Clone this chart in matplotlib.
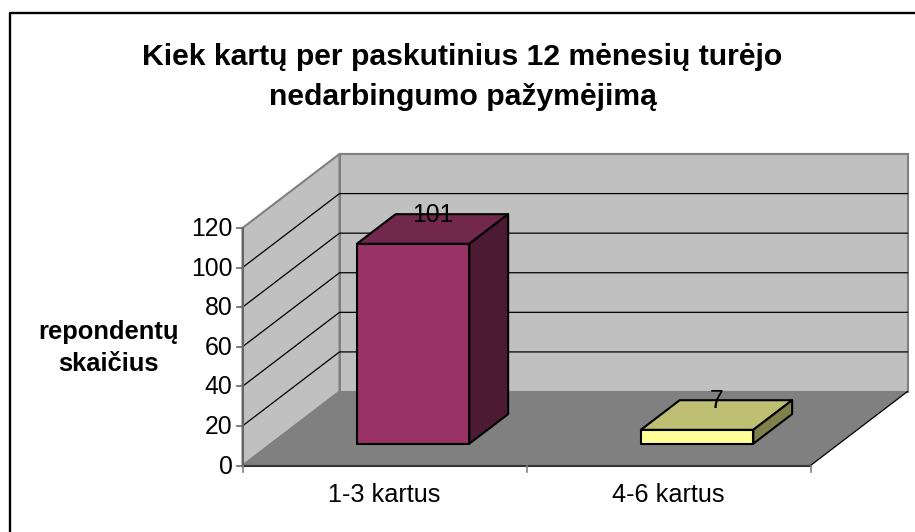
import matplotlib
matplotlib.use('Agg')
import matplotlib.pyplot as plt
from matplotlib.patches import Polygon

title = 'Kiek kartų per paskutinius 12 mėnesių turėjo\nnedarbingumo pažymėjimą'
ylabel = 'repondentų\nskaičius'
categories = ['1-3 kartus', '4-6 kartus']
values = [101, 7]
yticks = [0, 20, 40, 60, 80, 100, 120]
front_colors = ['#993366', '#FFFF99']
top_colors = ['#72274D', '#BFBF73']
side_colors = ['#4D1A33', '#80804D']

plt.rcParams['font.family'] = ['Liberation Sans', 'DejaVu Sans']

# layout of the fake 3d box, in pixels
X0, Y0 = 242.5, 465.5
CAT_W = 284
VAL_H = 237.5 / 120
DX, DY = 97, -74
BAR_W = 0.396
D0, D1 = 0.295, 0.695

def P(cat, val, depth=0):
    return (X0 + cat * CAT_W + depth * DX, Y0 - val * VAL_H + depth * DY)

fig = plt.figure(figsize=(9.15, 5.32), dpi=100)
ax = fig.add_axes([0, 0, 1, 1])
ax.set_xlim(0, 915)
ax.set_ylim(532, 0)
ax.axis('off')

# chart border, only top and left are inside the picture
ax.plot([10, 10, 915], [532, 13, 13], color='black', lw=1.7, zorder=1)

ncat = len(categories)
top = yticks[-1]

# walls and floor
ax.add_patch(Polygon([P(0, 0, 1), P(ncat, 0, 1), P(ncat, top, 1), P(0, top, 1)],
                     fc='#C0C0C0', ec='#808080', lw=1.5, zorder=1))
ax.add_patch(Polygon([P(0, 0), P(0, 0, 1), P(0, top, 1), P(0, top)],
                     fc='#C0C0C0', ec='#808080', lw=1.5, zorder=1))
ax.add_patch(Polygon([P(0, 0), P(ncat, 0), P(ncat, 0, 1), P(0, 0, 1)],
                     fc='#808080', ec='none', zorder=1))
ax.plot(*zip(P(ncat, 0), P(ncat, 0, 1)), color='black', lw=0.9, zorder=2)

# gridlines
for v in yticks[1:-1]:
    ax.plot(*zip(P(0, v), P(0, v, 1), P(ncat, v, 1)), color='black', lw=0.9, zorder=2)
ax.plot(*zip(P(0, top, 1), P(ncat, top, 1)), color='#808080', lw=1.5, zorder=2)

# axes
ax.plot(*zip(P(0, 0), P(0, top)), color='#666666', lw=1.5, zorder=3)
ax.plot(*zip(P(0, 0), P(ncat, 0)), color='#333333', lw=1.5, zorder=3)
for v in yticks:
    x, y = P(0, v)
    ax.plot([x - 6, x], [y, y], color='#666666', lw=1.2, zorder=3)
    ax.text(x - 10, y + 1, str(v), ha='right', va='center', fontsize=17.8)
for i in range(ncat + 1):
    x, y = P(i, 0)
    ax.plot([x, x], [y, y + 6], color='#808080', lw=1.2, zorder=3)

# bars
for i, (name, val) in enumerate(zip(categories, values)):
    a = i + 0.5 - BAR_W / 2
    b = i + 0.5 + BAR_W / 2
    kw = dict(ec='black', lw=1.5, joinstyle='round', zorder=4)
    ax.add_patch(Polygon([P(a, 0, D0), P(b, 0, D0), P(b, val, D0), P(a, val, D0)],
                         fc=front_colors[i], **kw))
    ax.add_patch(Polygon([P(a, val, D0), P(b, val, D0), P(b, val, D1), P(a, val, D1)],
                         fc=top_colors[i], **kw))
    ax.add_patch(Polygon([P(b, 0, D0), P(b, 0, D1), P(b, val, D1), P(b, val, D0)],
                         fc=side_colors[i], **kw))
    x = P(i + 0.5, val, (D0 + D1) / 2)[0]
    y = P(i + 0.5, val, D1)[1]
    ax.text(x, y + 1, str(val), ha='center', va='center', fontsize=17.8, zorder=5)
    x, y = P(i + 0.5, 0)
    ax.text(x, y + 30, name, ha='center', va='center', fontsize=18.2)

ax.text(462.5, 77, title, ha='center', va='center', fontsize=21.7, fontweight='bold',
        linespacing=1.58)
ax.text(108, 348, ylabel, ha='center', va='center', fontsize=18.4, fontweight='bold',
        linespacing=1.44)

fig.savefig('out.png', dpi=100)
